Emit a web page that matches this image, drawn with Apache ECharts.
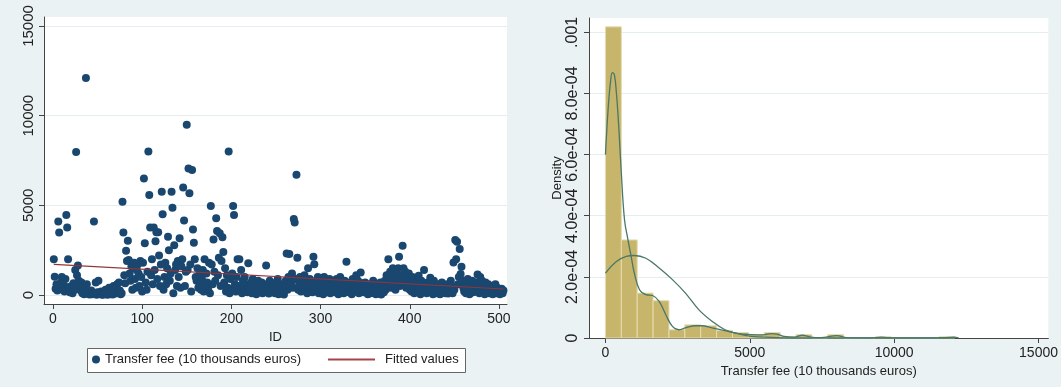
<!DOCTYPE html>
<html>
<head>
<meta charset="utf-8">
<script src="https://cdn.jsdelivr.net/npm/echarts@6/dist/echarts.min.js"></script>
<style>
html, body { margin: 0; padding: 0; background: #eaf2f3; }
#main { width: 1061px; height: 387px; }
</style>
</head>
<body>
<div id="main"></div>
<script>
// transfer fee (10 thousands euros) by ID 1..505
var transferFee = [
    2000, 1020, 350, 600, 250, 4100, 3480, 400, 700, 1000,
    300, 550, 200, 900, 4460, 3770, 1990, 450, 150, 350,
    500, 100, 650, 300, 1400, 7980, 1100, 1640, 800, 500,
    250, 700, 100, 400, 50, 200, 12100, 600, 150, 80,
    30, 100, 250, 50, 120, 4100, 60, 700, 20, 150,
    800, 90, 40, 200, 30, 10, 120, 60, 300, 80,
    20, 150, 400, 50, 250, 100, 30, 500, 200, 80,
    350, 600, 150, 700, 250, 50, 100, 5200, 3480, 1100,
    650, 2470, 1900, 3030, 1950, 1200, 800, 1600, 300, 1500,
    1800, 900, 400, 1400, 1700, 1200, 500, 1900, 1000, 200,
    1800, 6490, 2880, 700, 300, 1300, 8000, 5580, 3760, 1100,
    1990, 600, 3760, 1400, 3000, 3500, 900, 3500, 2200, 500,
    1700, 5760, 4500, 300, 1000, 1800, 600, 1500, 3250, 2490,
    800, 1200, 5760, 4870, 100, 2770, 1400, 1700, 500, 1900,
    1000, 3160, 400, 1600, 2000, 6000, 4160, 500, 1300, 9500,
    1400, 7050, 5670, 1700, 200, 6970, 3660, 2920, 1990, 1000,
    800, 1500, 400, 1100, 600, 300, 900, 1400, 200, 2000,
    500, 1200, 700, 300, 1800, 100, 4960, 1700, 600, 3100,
    1300, 800, 4280, 3570, 1100, 2080, 3440, 500, 1900, 3220,
    2400, 700, 1500, 200, 1100, 400, 8000, 100, 900, 300,
    1200, 4960, 4460, 600, 200, 1000, 1990, 500, 2000, 300,
    1400, 100, 800, 400, 1000, 250, 600, 150, 1770, 500,
    300, 700, 100, 900, 450, 200, 600, 50, 350, 800,
    150, 500, 250, 700, 100, 400, 600, 200, 1640, 300,
    500, 80, 800, 250, 150, 600, 300, 450, 100, 700,
    200, 900, 50, 400, 250, 600, 150, 350, 30, 500,
    800, 2320, 300, 1000, 2290, 500, 700, 1200, 400, 4240,
    4050, 900, 6700, 2080, 300, 600, 1000, 200, 800, 400,
    500, 1100, 250, 700, 100, 1490, 300, 900, 200, 600,
    150, 2140, 1710, 400, 800, 250, 1000, 100, 500, 700,
    300, 600, 50, 1000, 200, 450, 700, 150, 350, 900,
    100, 500, 250, 800, 400, 150, 600, 900, 300, 50,
    700, 1000, 200, 450, 600, 100, 800, 350, 1860, 250,
    500, 150, 700, 300, 50, 900, 400, 600, 200, 1100,
    350, 800, 100, 500, 1260, 250, 650, 150, 400, 700,
    200, 500, 50, 300, 600, 100, 450, 250, 800, 150,
    350, 50, 500, 200, 100, 400, 700, 30, 250, 600,
    150, 800, 300, 1100, 500, 1990, 700, 1300, 400, 900,
    1500, 600, 1000, 300, 1200, 800, 1490, 2140, 500, 1100,
    700, 2750, 1490, 900, 1300, 400, 1000, 600, 1200, 300,
    800, 200, 1000, 500, 100, 700, 300, 600, 150, 1080,
    400, 50, 800, 250, 600, 1390, 200, 500, 100, 700,
    300, 600, 970, 150, 450, 50, 800, 250, 500, 100,
    350, 600, 200, 50, 450, 700, 150, 300, 500, 100,
    250, 600, 80, 400, 200, 800, 500, 100, 1820, 300,
    3070, 2000, 2970, 600, 1000, 2570, 1170, 1580, 800, 400,
    200, 700, 100, 500, 900, 300, 50, 600, 250, 800,
    150, 400, 700, 200, 500, 1150, 300, 100, 1000, 600,
    800, 250, 450, 50, 700, 300, 150, 600, 100, 400,
    250, 500, 50, 350, 200, 600, 100, 400, 150, 300,
    50, 200, 350, 100, 250
];
var fittedIds = [1, 505];
var fittedValues = [1710, 335];
var idTicks = [0, 100, 200, 300, 400, 500];
var feeTicks = [0, 5000, 10000, 15000];

// histogram, kernel density, normal density (right panel)
var binEdges = [0, 550, 1100, 1650, 2200, 2750, 3300, 3850, 4400, 4950, 5500, 6050,
    6600, 7150, 7700, 8250, 8800, 9350, 9900, 10450, 11000, 11550, 12100];
var binDensity = [0.001018, 0.000321, 0.000147, 0.000122, 0.000027, 0.000043, 0.000040,
    0.000025, 0.000018, 0.000011, 0.000018, 0.000004, 0.000011, 0, 0.000011, 0, 0,
    0.000004, 0, 0, 0, 0.000004];
var kdX = [0, 90, 170, 240, 310, 380, 460, 550, 660, 780, 890, 1000, 1180, 1400, 1630,
    1860, 2090, 2320, 2540, 2770, 3110, 3340, 3690, 4140, 4600, 5050, 5400, 5740, 5970,
    6190, 6540, 6820, 7110, 7450, 8020, 8360, 9160, 9560, 9960, 11440, 12070, 12240];
var kdY = [0.000600, 0.000746, 0.000833, 0.000868, 0.000861, 0.000801, 0.000692, 0.000539,
    0.000387, 0.000321, 0.000267, 0.000212, 0.000158, 0.000142, 0.000139, 0.000120,
    0.000076, 0.000038, 0.000027, 0.000033, 0.000040, 0.000040, 0.000033, 0.000024,
    0.000014, 0.000011, 0.000010, 0.000014, 0.000012, 0.000005, 0.000003, 0.000009,
    0.000003, 0.000001, 0.000008, 0.000001, 0, 0.000003, 0, 0, 0.000003, 0];
var normX = [0, 380, 720, 1000, 1400, 1860, 2320, 2770, 3230, 3690, 4140, 4600, 5050,
    5740, 6420, 8000, 10000, 12100];
var normY = [0.000212, 0.000250, 0.000267, 0.000270, 0.000261, 0.000229, 0.000191,
    0.000147, 0.000093, 0.000055, 0.000027, 0.000014, 0.000005, 0.000002, 0, 0, 0, 0];
var densityTicks = [0, 0.0002, 0.0004, 0.0006, 0.0008, 0.001];
var densityTickLabels = ['0', '2.0e-04', '4.0e-04', '6.0e-04', '8.0e-04', '.001'];
var feeAxisTicks = [0, 5000, 10000, 15000];

var feeName = 'Transfer fee (10 thousands euros)';
var fitColor = '#90353b';
var axisColor = '#444';
var gridColor = '#e4edf0';
var fontFamily = 'Liberation Sans, Arial, sans-serif';

function plainNumber(v) {
    return String(v);
}

function axisBase(ticks, extra) {
    var a = {
        type: 'value',
        axisLine: { show: true, onZero: false, lineStyle: { color: axisColor, width: 1 } },
        axisTick: { show: true, length: 5, customValues: ticks, lineStyle: { color: axisColor } },
        axisLabel: { customValues: ticks, color: '#222', fontSize: 14, fontFamily: fontFamily, formatter: plainNumber },
        splitLine: { show: false }
    };
    for (var k in extra) a[k] = extra[k];
    return a;
}

var scatterData = [];
for (var i = 0; i < transferFee.length; i++) {
    scatterData.push([i + 1, transferFee[i]]);
}
var fittedData = [];
for (var i = 0; i < fittedIds.length; i++) {
    fittedData.push([fittedIds[i], fittedValues[i]]);
}
var histData = [];
for (var i = 0; i < binDensity.length; i++) {
    histData.push([binEdges[i], binEdges[i + 1], binDensity[i]]);
}
var kdData = [];
for (var i = 0; i < kdX.length; i++) kdData.push([kdX[i], kdY[i]]);
var normData = [];
for (var i = 0; i < normX.length; i++) normData.push([normX[i], normY[i]]);

var myChart = echarts.init(document.getElementById('main'));
var option = {
    backgroundColor: '#eaf2f3',
    animation: false,
    textStyle: { fontFamily: fontFamily },
    grid: [
        { left: 44, top: 17, width: 463, height: 287, show: true, backgroundColor: '#fff', borderWidth: 0 },
        { left: 589, top: 18, width: 465, height: 320, show: true, backgroundColor: '#fff', borderWidth: 0 }
    ],
    xAxis: [
        axisBase(idTicks, {
            gridIndex: 0, min: -10, max: 509,
            name: 'ID', nameLocation: 'middle', nameGap: 21,
            nameTextStyle: { color: '#222', fontSize: 13, fontFamily: fontFamily }
        }),
        axisBase(feeAxisTicks, {
            gridIndex: 1, min: -570, max: 15340,
            name: feeName, nameLocation: 'middle', nameGap: 21,
            nameTextStyle: { color: '#222', fontSize: 13, fontFamily: fontFamily }
        })
    ],
    yAxis: [
        axisBase(feeTicks, {
            gridIndex: 0, min: -500, max: 15500,
            splitLine: { show: true, lineStyle: { color: gridColor, width: 1 } }
        }),
        axisBase(densityTicks, {
            gridIndex: 1, min: 0, max: 0.001047,
            name: 'Density', nameLocation: 'middle', nameGap: 24, nameRotate: 90,
            nameTextStyle: { color: '#222', fontSize: 13, fontFamily: fontFamily },
            splitLine: { show: true, lineStyle: { color: gridColor, width: 1 } }
        })
    ],
    legend: [
        {
            data: [{ name: feeName, icon: 'circle' }],
            left: 92, top: 353, padding: 0, itemWidth: 8, itemHeight: 8,
            textStyle: { color: '#222', fontSize: 13, fontFamily: fontFamily }
        },
        {
            data: [{ name: 'Fitted values', icon: 'rect' }],
            left: 328, top: 353, padding: 0, itemWidth: 47, itemHeight: 2,
            itemStyle: { color: '#a5454b', borderWidth: 0 },
            textStyle: { color: '#222', fontSize: 13, fontFamily: fontFamily, padding: [0, 0, 0, 5] }
        }
    ],
    graphic: [{
        type: 'rect', left: 87, top: 348, z: 0,
        shape: { width: 378, height: 24 },
        style: { fill: '#fff', stroke: '#666', lineWidth: 1 }
    }],
    series: [
        {
            name: feeName, type: 'scatter', xAxisIndex: 0, yAxisIndex: 0,
            data: scatterData, symbolSize: 8, z: 2,
            itemStyle: { color: '#1a476f', opacity: 1 }
        },
        {
            name: 'Fitted values', type: 'line', xAxisIndex: 0, yAxisIndex: 0,
            data: fittedData, symbol: 'none', z: 3, color: fitColor,
            lineStyle: { color: fitColor, width: 1.2 },
            itemStyle: { color: fitColor }
        },
        {
            name: 'hist', type: 'custom', xAxisIndex: 1, yAxisIndex: 1,
            data: histData, encode: { x: [0, 1], y: 2 },
            renderItem: function (params, api) {
                var p0 = api.coord([api.value(0), api.value(2)]);
                var p1 = api.coord([api.value(1), 0]);
                return {
                    type: 'rect',
                    shape: { x: p0[0], y: p0[1], width: p1[0] - p0[0], height: p1[1] - p0[1] },
                    style: { fill: '#c6b56a', stroke: '#e4dcb0', lineWidth: 1 }
                };
            }
        },
        {
            name: 'kdensity', type: 'line', xAxisIndex: 1, yAxisIndex: 1,
            data: kdData, symbol: 'none', smooth: 0.4,
            lineStyle: { color: '#4a7767', width: 1.3 }
        },
        {
            name: 'normal', type: 'line', xAxisIndex: 1, yAxisIndex: 1,
            data: normData, symbol: 'none', smooth: 0.4,
            lineStyle: { color: '#4a7767', width: 1.3 }
        }
    ]
};

option.yAxis[1].axisLabel.formatter = function (v) {
    for (var i = 0; i < densityTicks.length; i++) {
        if (Math.abs(densityTicks[i] - v) < 1e-9) return densityTickLabels[i];
    }
    return '';
};
option.yAxis[0].axisLabel.rotate = 90;
option.yAxis[0].axisLabel.fontSize = 15;
option.yAxis[1].axisLabel.rotate = 90;
option.yAxis[1].axisLabel.fontSize = 16;

if (option && typeof option === "object") {
    myChart.setOption(option, true);
}
</script>
</body>
</html>
